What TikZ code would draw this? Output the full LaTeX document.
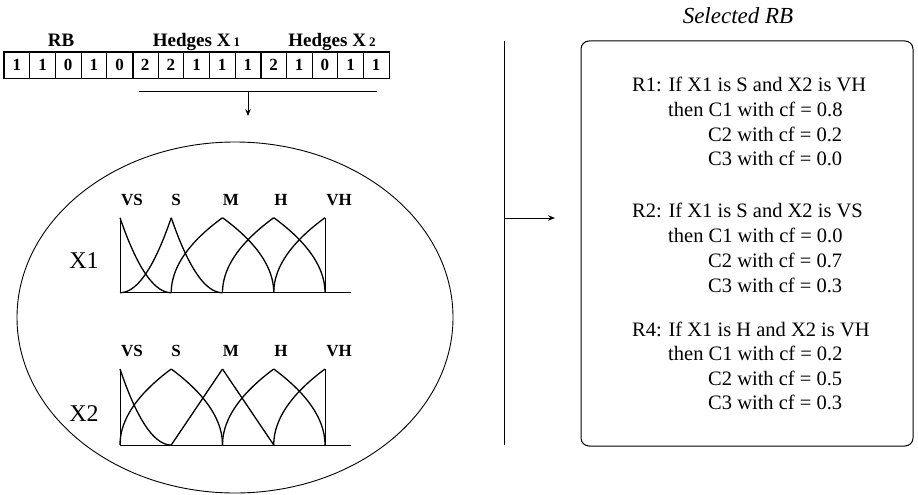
\documentclass[tikz,border=0pt]{standalone}
\usepackage{fontspec}
\setmainfont{Liberation Serif}
\usetikzlibrary{shapes.geometric,arrows.meta}

\tikzset{
  cell/.style={draw, line width=0.8pt, minimum width=25.67pt, minimum height=26pt,
    inner sep=0pt, font=\fontsize{17}{17}\selectfont\bfseries},
  grp/.style={font=\fontsize{19}{19}\selectfont\bfseries, inner sep=0pt, anchor=base},
  term/.style={font=\fontsize{17}{17}\selectfont\bfseries, inner sep=0pt, anchor=base},
  var/.style={font=\fontsize{24}{24}\selectfont, inner sep=0pt, anchor=base},
  rule/.style={font=\fontsize{20.5}{24}\selectfont, inner sep=0pt, anchor=base west},
  mf/.style={line width=1.3pt},
  axis/.style={line width=0.8pt},
  frame/.style={line width=1.8pt},
  arr/.style={-{Stealth[length=7pt,width=5.5pt]}, line width=0.8pt},
}

% one half of a membership function: base x, peak x, base y, top y, hedge
% hedge 0 = linear, 1 = dilation (square root), 2 = concentration (square)
\newcommand\halfmf[5]{%
  \ifcase#5\relax
    \draw[mf] (#1,#3) -- (#2,#4);
  \or
    \draw[mf] plot[domain=0:1,samples=50,smooth] ({#1+(#2-#1)*\x*\x},{#3+(#4-#3)*\x});
  \or
    \draw[mf] plot[domain=0:1,samples=50,smooth] ({#1+(#2-#1)*\x},{#3+(#4-#3)*\x*\x});
  \fi}

% five fuzzy terms VS, S, M, H, VH: base y, top y, then the five hedges
\newcommand\mfchart[7]{%
  \halfmf{171.25}{120}{#1}{#2}{#3}
  \halfmf{120}{171.25}{#1}{#2}{#4}
  \halfmf{222.5}{171.25}{#1}{#2}{#4}
  \halfmf{171.25}{222.5}{#1}{#2}{#5}
  \halfmf{273.75}{222.5}{#1}{#2}{#5}
  \halfmf{222.5}{273.75}{#1}{#2}{#6}
  \halfmf{325}{273.75}{#1}{#2}{#6}
  \halfmf{273.75}{325}{#1}{#2}{#7}
  \draw[axis] (120,#2) -- (120,#1) -- (351,#1);
  \draw[axis] (325,#2) -- (325,#1);
}

\begin{document}
\begin{tikzpicture}[x=1pt, y=-1pt]
\useasboundingbox (0,0) rectangle (918,495);

% chromosome: rule-base bits and hedges of X1 and X2
\foreach \v [count=\i] in {1,1,0,1,0,2,2,1,1,1,2,1,0,1,1}
  \node[cell] (c\i) at ({4+25.67*(\i-0.5)},65) {\v};
\draw[frame] (c1.north west) rectangle (c15.south east);
\draw[frame] (c5.north east) -- (c5.south east);
\draw[frame] (c10.north east) -- (c10.south east);

\node[grp] (lrb) at (61,47) {RB};
\node[grp] (lh1) at (196.5,47) {Hedges X\hspace{3pt}{\fontsize{13}{13}\selectfont 1}};
\node[grp] (lh2) at (332,47) {Hedges X\hspace{3pt}{\fontsize{13}{13}\selectfont 2}};

% decoding bracket and arrow
\coordinate (bl) at (139,91);
\coordinate (br) at (377,91);
\coordinate (bm) at (248,91);
\coordinate (bt) at (248,116);
\draw[axis] (bl) -- (br);
\draw[arr] (bm) -- (bt);

% fuzzy partitions
\node[draw, ellipse, line width=0.9pt, minimum width=436pt, minimum height=351pt, inner sep=0pt]
  (part) at (235,317.5) {};

\foreach \t/\xx [count=\k] in {VS/132,S/176,M/231,H/281,VH/339}
  \node[term] (ta\k) at (\xx,205) {\t};
\foreach \t/\xx [count=\k] in {VS/132,S/176,M/231,H/281,VH/339}
  \node[term] (tb\k) at (\xx,356) {\t};

\node[var] (x1) at (84,268) {X1};
\node[var] (x2) at (84,421) {X2};

\mfchart{292.7}{217.7}{2}{2}{1}{1}{1}
\mfchart{445}{369}{2}{1}{0}{1}{1}

% separator and arrow to the selected rule base
\coordinate (vtop) at (504,41);
\coordinate (vbot) at (504,445);
\coordinate (vmid) at (504,218);
\coordinate (atip) at (555,218);
\draw[line width=0.9pt] (vtop) -- (vbot);
\draw[arr] (vmid) -- (atip);

\node[draw, rounded corners=8pt, line width=1pt, minimum width=332pt, minimum height=405pt, inner sep=0pt]
  (rb) at (747,243.5) {};
\node[font=\fontsize{23}{23}\selectfont\itshape, inner sep=0pt, anchor=base] (title) at (738,24) {Selected RB};

% rules
\node[rule] (r1a) at (632,92)  {R1: If X1 is S and X2 is VH};
\node[rule] (r1b) at (668,116.5) {then C1 with cf = 0.8};
\node[rule] (r1c) at (708,141) {C2 with cf = 0.2};
\node[rule] (r1d) at (708,165.5) {C3 with cf = 0.0};

\node[rule] (r2a) at (632,217) {R2: If X1 is S and X2 is VS};
\node[rule] (r2b) at (668,242) {then C1 with cf = 0.0};
\node[rule] (r2c) at (708,267) {C2 with cf = 0.7};
\node[rule] (r2d) at (708,292) {C3 with cf = 0.3};

\node[rule] (r4a) at (632,336) {R4: If X1 is H and X2 is VH};
\node[rule] (r4b) at (668,360.5) {then C1 with cf = 0.2};
\node[rule] (r4c) at (708,385) {C2 with cf = 0.5};
\node[rule] (r4d) at (708,409) {C3 with cf = 0.3};
\end{tikzpicture}
\end{document}
